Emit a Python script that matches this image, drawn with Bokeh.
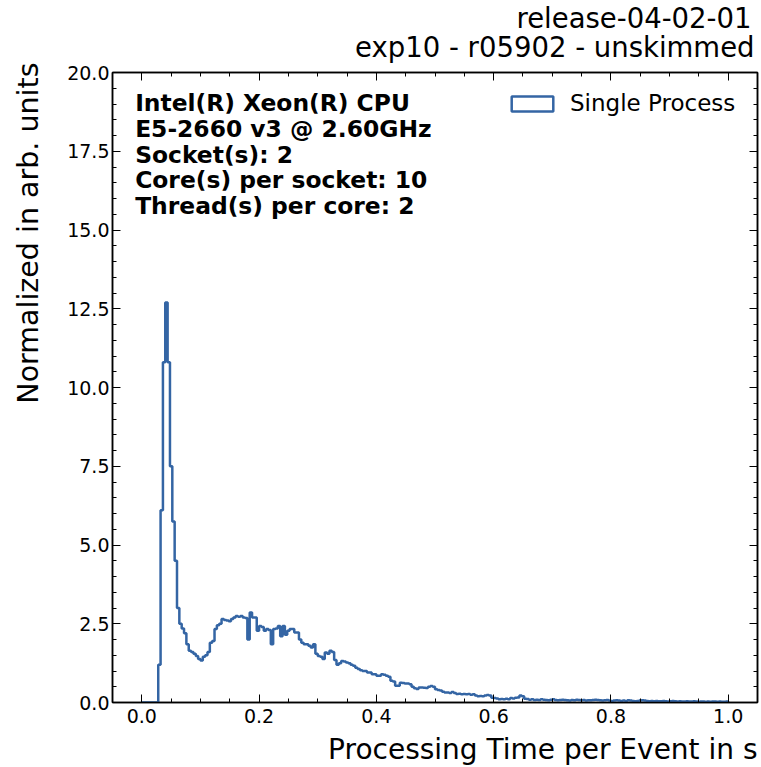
from bokeh.plotting import figure
from bokeh.models import (Range1d, SingleIntervalTicker, PrintfTickFormatter, LinearAxis,
                          Title, Legend, LegendItem, ColumnDataSource, CustomJSTickFormatter)
from bokeh.core.properties import value
from bokeh.embed import file_html
from bokeh.resources import INLINE

# ---------------- data ----------------
hist_start = 0.0
bin_width = 0.004
counts = [
    0, 0, 0, 0, 0, 0, 0, 1.2, 6.1, 10.8,
    12.7, 10.8, 7.5, 5.75, 4.5, 3.0, 2.5, 2.35, 2.2, 1.85,
    1.64, 1.6, 1.55, 1.48, 1.38, 1.33, 1.45, 1.5, 1.6, 1.9,
    1.95, 2.33, 2.45, 2.5, 2.65, 2.62, 2.6, 2.58, 2.65, 2.7,
    2.75, 2.72, 2.75, 2.7, 2.68, 2.0, 2.86, 2.7, 2.7, 2.28,
    2.43, 2.4, 2.28, 2.33, 2.3, 1.85, 2.33, 2.35, 2.43, 2.1,
    2.43, 2.15, 2.28, 2.33, 2.33, 2.22, 2.22, 2.0, 1.9, 1.85,
    1.85, 1.8, 1.75, 1.85, 1.55, 1.48, 1.45, 1.38, 1.59, 1.55,
    1.64, 1.6, 1.35, 1.2, 1.25, 1.32, 1.3, 1.27, 1.25, 1.2,
    1.17, 1.1, 1.06, 1.02, 1.0, 1.0, 0.95, 0.95, 0.9, 0.9,
    0.85, 0.85, 0.9, 0.88, 0.85, 0.82, 0.69, 0.67, 0.53, 0.53,
    0.63, 0.62, 0.6, 0.6, 0.58, 0.5, 0.45, 0.43, 0.48, 0.48,
    0.47, 0.46, 0.5, 0.52, 0.5, 0.42, 0.4, 0.38, 0.34, 0.32,
    0.32, 0.3, 0.33, 0.3, 0.27, 0.28, 0.26, 0.27, 0.26, 0.27,
    0.25, 0.26, 0.22, 0.2, 0.21, 0.2, 0.22, 0.24, 0.22, 0.15,
    0.14, 0.13, 0.1, 0.11, 0.1, 0.12, 0.1, 0.14, 0.13, 0.15,
    0.16, 0.22, 0.2, 0.12, 0.11, 0.09, 0.1, 0.08, 0.09, 0.08,
    0.1, 0.09, 0.08, 0.07, 0.09, 0.1, 0.08, 0.07, 0.08, 0.09,
    0.08, 0.07, 0.06, 0.08, 0.07, 0.09, 0.08, 0.07, 0.08, 0.06,
    0.07, 0.07, 0.08, 0.09, 0.08, 0.07, 0.06, 0.07, 0.08, 0.06,
    0.05, 0.06, 0.07, 0.06, 0.05, 0.06, 0.05, 0.07, 0.06, 0.05,
    0.04, 0.05, 0.06, 0.07, 0.06, 0.05, 0.04, 0.05, 0.04, 0.05,
    0.04, 0.04, 0.05, 0.04, 0.03, 0.04, 0.05, 0.04, 0.03, 0.04,
    0.03, 0.03, 0.04, 0.03, 0.03, 0.04, 0.03, 0.02, 0.03, 0.03,
    0.02, 0.03, 0.02, 0.03, 0.03, 0.02, 0.03, 0.02, 0.02, 0.03,
]
assert len(counts) == 250

x_label = "Processing Time per Event in s"
y_label = "Normalized in arb. units"
title_lines = ["release-04-02-01", "exp10 - r05902 - unskimmed"]
legend_label = "Single Process"
info_lines = [
    "Intel(R) Xeon(R) CPU",
    "E5-2660 v3 @ 2.60GHz",
    "Socket(s): 2",
    "Core(s) per socket: 10",
    "Thread(s) per core: 2",
]

# ---------------- styling ----------------
FONT = "DejaVu Sans"
BLUE = "#3465a4"

# build step outline (matplotlib histtype='step')
xs = [hist_start]
ys = [0.0]
for i, c in enumerate(counts):
    left = hist_start + i * bin_width
    right = left + bin_width
    xs += [left, right]
    ys += [c, c]
xs.append(hist_start + len(counts) * bin_width)
ys.append(0.0)

p = figure(width=761, height=767, output_backend="svg", toolbar_location=None,
           x_range=Range1d(-0.05, 1.05), y_range=Range1d(0, 20),
           min_border_left=112, min_border_right=4, min_border_top=72, min_border_bottom=65)
p.background_fill_color = "white"
p.border_fill_color = "white"
p.outline_line_color = "black"
p.outline_line_width = 1.5
p.xgrid.visible = False
p.ygrid.visible = False

p.line(xs, ys, line_color=BLUE, line_width=2.5)

blank = CustomJSTickFormatter(code="return ''")

def style_axis(ax, show_labels, standoff=6):
    ax.axis_line_color = "black"
    ax.axis_line_width = 1.5
    ax.major_tick_in = 8
    ax.major_tick_out = 0
    ax.minor_tick_in = 4
    ax.minor_tick_out = 0
    ax.major_tick_line_color = "black"
    ax.minor_tick_line_color = "black"
    ax.major_tick_line_width = 1
    ax.minor_tick_line_width = 1
    ax.major_label_text_font = FONT
    ax.major_label_text_color = "black"
    ax.major_label_text_font_size = "19px"
    ax.major_label_standoff = standoff if show_labels else 0

def spacer_axis(width, interval):
    # invisible axis used only to reserve space between tick labels and axis title
    ax = LinearAxis(ticker=SingleIntervalTicker(interval=interval, num_minor_ticks=0),
                    formatter=blank)
    ax.axis_line_alpha = 0
    ax.major_tick_line_alpha = 0
    ax.minor_tick_line_alpha = 0
    ax.major_tick_in = 0
    ax.major_tick_out = width
    ax.minor_tick_in = 0
    ax.minor_tick_out = 0
    ax.major_label_standoff = 0
    ax.major_label_text_font_size = "19px"
    return ax

fmt = PrintfTickFormatter(format="%.1f")

p.xaxis.ticker = SingleIntervalTicker(interval=0.2, num_minor_ticks=4)
p.yaxis.ticker = SingleIntervalTicker(interval=2.5, num_minor_ticks=5)
p.xaxis.formatter = fmt
p.yaxis.formatter = fmt
style_axis(p.xaxis[0], True, 6)
style_axis(p.yaxis[0], True, 3)

top_ax = LinearAxis(ticker=SingleIntervalTicker(interval=0.2, num_minor_ticks=4), formatter=blank)
right_ax = LinearAxis(ticker=SingleIntervalTicker(interval=2.5, num_minor_ticks=5), formatter=blank)
style_axis(top_ax, False)
style_axis(right_ax, False)
p.add_layout(top_ax, "above")
p.add_layout(right_ax, "right")

p.add_layout(spacer_axis(20, 2.5), "left")
p.add_layout(spacer_axis(5, 0.2), "below")

# axis labels as aligned titles (right / top aligned like the reference)
p.add_layout(Title(text=x_label, align="right", text_font=FONT, text_font_size="28px",
                   text_font_style="normal", text_color="black", offset=0, standoff=0), "below")
p.add_layout(Title(text=y_label, align="right", text_font=FONT, text_font_size="28.5px",
                   text_font_style="normal", text_color="black", offset=-10, standoff=0), "left")

# top-right title, two lines (inner line first)
p.add_layout(Title(text=title_lines[1], align="right", text_font=FONT, text_font_size="27.5px",
                   text_font_style="normal", text_color="black", offset=3, standoff=20), "above")
p.add_layout(Title(text=title_lines[0], align="right", text_font=FONT, text_font_size="27.5px",
                   text_font_style="normal", text_color="black", offset=6, standoff=-30), "above")

# info text block
px_per_y = 630.0 / 20.0
line_step = 25.8 / px_per_y
info_src = ColumnDataSource(dict(
    x=[-0.0114] * len(info_lines),
    y=[19.03 - i * line_step for i in range(len(info_lines))],
    text=info_lines,
))
p.text(x="x", y="y", text="text", source=info_src, text_font=value(FONT),
       text_font_style="bold", text_font_size="23.4px", text_baseline="middle",
       text_align="left", text_color="black")

# legend with open rectangle patch (dummy glyph, no visible data)
nan = float("nan")
leg_r = p.quad(left=[nan], right=[nan], top=[nan], bottom=[nan], fill_color="white",
               line_color=BLUE, line_width=2.5)
legend = Legend(items=[LegendItem(label=legend_label, renderers=[leg_r])],
                location=(394, 586), border_line_color=None, background_fill_alpha=0,
                label_text_font=FONT, label_text_font_size="23px", label_text_color="black",
                glyph_width=52, glyph_height=19, label_standoff=12, label_height=20,
                padding=0, margin=0, spacing=0)
p.add_layout(legend)

open("out.html", "w").write(file_html(p, INLINE))
